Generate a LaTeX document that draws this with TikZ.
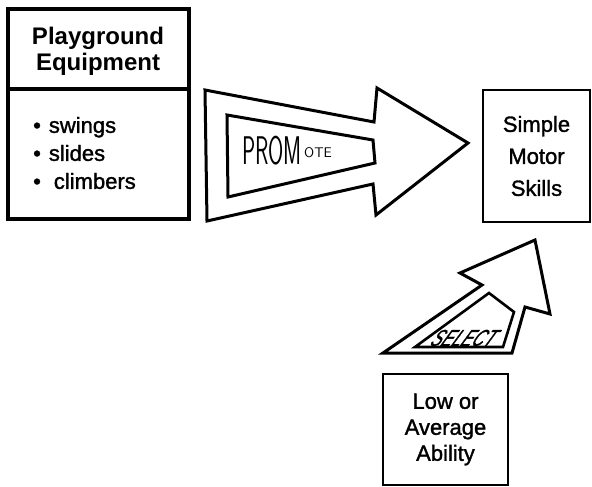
\documentclass[tikz,border=0pt]{standalone}
\usepackage{fontspec}
\setmainfont{Liberation Sans}
\newfontfamily\labelfont[FakeBold=1.4]{Liberation Sans}
\begin{document}
\begin{tikzpicture}[x=1pt,y=-1pt,
  heavybox/.style={draw,line width=3.6pt},
  lightbox/.style={draw,line width=2pt},
  arrowshape/.style={draw,line width=3pt,line join=miter},
  label/.style={font=\labelfont\fontsize{22}{28}\selectfont,align=center,inner sep=0pt},
  title/.style={font=\fontsize{24}{26}\selectfont\bfseries,align=center,inner sep=0pt}]
\useasboundingbox (0,0) rectangle (592,487);

% Equipment box with a title strip and a list
\draw[heavybox] (8,9) rectangle (189,219);
\draw[heavybox] (8,89) -- (190,89);
\node[title] (equip) at (98,51) {Playground\\Equipment};
\node[label,align=left,anchor=west] (items) at (33,153)
  {•\hspace{8pt}swings\\•\hspace{8pt}slides\\•\hspace{13pt}climbers};

% Target box
\node[lightbox,minimum width=107pt,minimum height=132pt,inner sep=0pt] (skills) at (536.5,156) {};
\node[label,font=\labelfont\fontsize{22}{32}\selectfont] (skillstext) at (skills.center) {Simple\\Motor\\Skills};

% Ability box
\node[lightbox,minimum width=125pt,minimum height=111pt,inner sep=0pt] (ability) at (445.5,429.5) {};
\node[label,font=\labelfont\fontsize{22}{26}\selectfont] (abilitytext) at (ability.center) {Low or\\Average\\Ability};

% Large block arrow
\draw[arrowshape] (205,90) -- (374,122) -- (377,88) -- (468,143) -- (376,215) -- (373,184) -- (207,221) -- cycle;
\draw[arrowshape] (227,115) -- (373,140) -- (375,163) -- (228,197) -- cycle;
\node[inner sep=0pt,anchor=west,xscale=0.55,font=\sffamily\fontsize{40}{40}\selectfont] (promote) at (242,151) {PROM};
\node[inner sep=0pt,anchor=west,font=\sffamily\fontsize{14}{14}\selectfont] (promoteend) at (304,153) {OTE};

% Small slanted block arrow
\draw[arrowshape] (383,353) -- (512,353) -- (525,307) -- (550,314) -- (535,240) -- (460,273) -- (482,285) -- cycle;
\draw[arrowshape,line width=2.6pt] (415,347) -- (503,347) -- (514,312) -- (489,293) -- cycle;
\node[inner sep=0pt,xslant=0.6,xscale=0.7,font=\labelfont\fontsize{23}{23}\selectfont\itshape] (select) at (465,338) {SELECT};
\end{tikzpicture}
\end{document}
